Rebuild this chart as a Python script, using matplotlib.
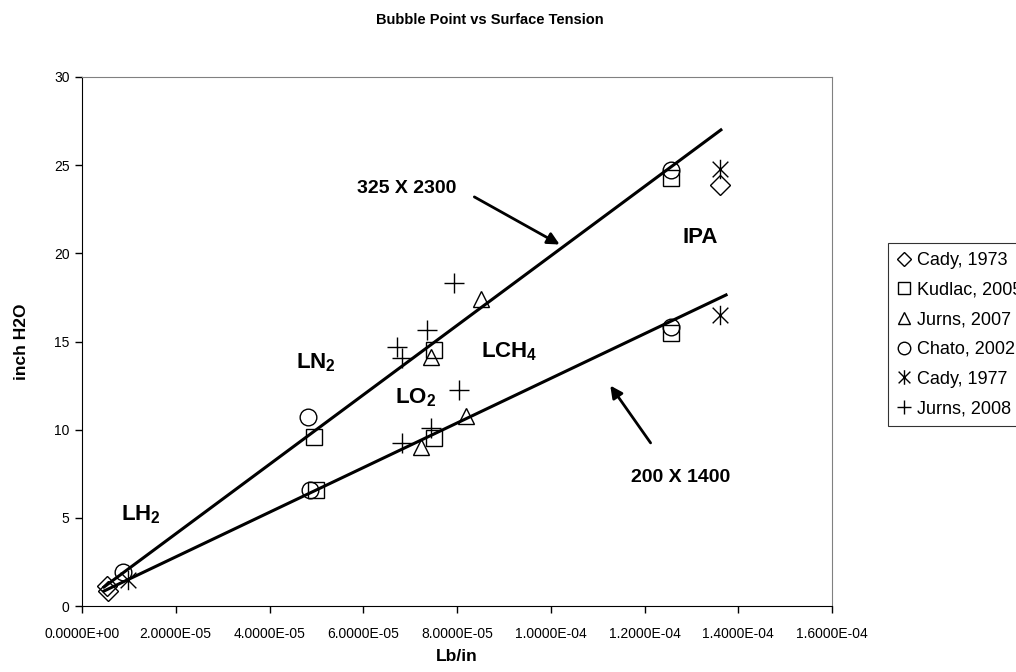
import numpy as np
import matplotlib
matplotlib.use("Agg")
import matplotlib.pyplot as plt
from matplotlib.path import Path
from matplotlib.ticker import FuncFormatter

plt.rcParams['font.family'] = ['Liberation Sans', 'DejaVu Sans']
plt.rcParams['mathtext.fontset'] = 'custom'
plt.rcParams['mathtext.rm'] = 'Liberation Sans'
plt.rcParams['mathtext.bf'] = 'Liberation Sans:bold'

# data (x in lb/in, y in inch H2O)
cady73_x = [5.3e-6, 5.6e-6, 136.1e-6]
cady73_y = [1.15, 0.85, 23.9]

kudlac_x = [49.5e-6, 49.9e-6, 75.0e-6, 75.0e-6, 125.6e-6, 125.6e-6]
kudlac_y = [9.6, 6.6, 14.5, 9.5, 24.3, 15.5]

jurns07_x = [74.4e-6, 85.2e-6, 81.9e-6, 72.3e-6]
jurns07_y = [14.1, 17.4, 10.8, 9.0]

chato_x = [8.8e-6, 48.2e-6, 48.6e-6, 125.6e-6, 125.6e-6]
chato_y = [1.9, 10.7, 6.6, 24.7, 15.8]

cady77_x = [9.9e-6, 136.1e-6, 136.1e-6]
cady77_y = [1.5, 24.8, 16.5]

jurns08_x = [79.4e-6, 73.5e-6, 67.1e-6, 68.2e-6, 80.4e-6, 74.4e-6, 68.2e-6]
jurns08_y = [18.3, 15.65, 14.7, 14.05, 12.25, 10.1, 9.25]

# trend lines (325 X 2300 and 200 X 1400 mesh)
line_325_x = [4.7e-6, 136.3e-6]
line_325_y = [1.08, 27.0]
line_200_x = [4.7e-6, 137.4e-6]
line_200_y = [0.85, 17.64]

# asterisk like Excel's: X with a vertical bar
ast = Path([(-0.5, -0.5), (0.5, 0.5), (-0.5, 0.5), (0.5, -0.5), (0, -0.62), (0, 0.62)],
           [Path.MOVETO, Path.LINETO] * 3)

series = [
    ("Cady, 1973", cady73_x, cady73_y, "D", 10),
    ("Kudlac, 2005", kudlac_x, kudlac_y, "s", 12),
    ("Jurns, 2007", jurns07_x, jurns07_y, "^", 12),
    ("Chato, 2002", chato_x, chato_y, "o", 12),
    ("Cady, 1977", cady77_x, cady77_y, ast, 14),
    ("Jurns, 2008", jurns08_x, jurns08_y, "+", 14),
]


def main():
    fig = plt.figure(figsize=(10.16, 6.72), dpi=100, facecolor='w')
    ax = fig.add_axes([82 / 1016, 66 / 672, 750 / 1016, 529 / 672])

    ax.plot(line_325_x, line_325_y, color='black', lw=2.2, zorder=3)
    ax.plot(line_200_x, line_200_y, color='black', lw=2.2, zorder=3)

    handles = []
    for label, xs, ys, marker, size in series:
        h, = ax.plot(xs, ys, linestyle='none', marker=marker, markersize=size,
                     markerfacecolor='none', markeredgecolor='black',
                     markeredgewidth=1.0, label=label, zorder=2)
        handles.append(h)

    ax.set_xlim(0, 1.6e-4)
    ax.set_ylim(0, 30)
    ax.set_xticks(np.arange(0, 1.61e-4, 2e-5))
    ax.set_yticks(np.arange(0, 31, 5))
    ax.xaxis.set_major_formatter(FuncFormatter(lambda v, p: f"{v:.4E}"))
    ax.tick_params(axis='both', direction='out', length=5, width=1, labelsize=10, pad=4)
    ax.tick_params(axis='x', pad=10)

    for s in ('top', 'right'):
        ax.spines[s].set_color('#808080')
    for s in ('left', 'bottom'):
        ax.spines[s].set_color('black')

    ax.set_xlabel("Lb/in", fontsize=12.5, fontweight='bold', labelpad=6)
    ax.set_ylabel("inch H2O", fontsize=12.5, fontweight='bold', labelpad=18)
    fig.text(490 / 1016, 1 - 20 / 672, "Bubble Point vs Surface Tension",
             ha='center', va='center', fontsize=10.5, fontweight='bold')

    lab = dict(fontsize=16, fontweight='bold', ha='center', va='center')
    ax.text(12.5e-6, 5.2, r"LH$_\mathbf{2}$", **lab)
    ax.text(49.9e-6, 13.8, r"LN$_\mathbf{2}$", **lab)
    ax.text(71.2e-6, 11.8, r"LO$_\mathbf{2}$", **lab)
    ax.text(91.2e-6, 14.4, r"LCH$_\mathbf{4}$", **lab)
    ax.text(132e-6, 20.9, "IPA", **lab)

    arrow = dict(arrowstyle='-|>', color='black', lw=2, mutation_scale=18,
                 shrinkA=0, shrinkB=0)
    ax.annotate("", xy=(101.9e-6, 20.5), xytext=(83.7e-6, 23.2), arrowprops=arrow)
    ax.text(69.2e-6, 23.7, "325 X 2300", fontsize=14, fontweight='bold',
            ha='center', va='center')
    ax.annotate("", xy=(112.7e-6, 12.5), xytext=(121.3e-6, 9.25), arrowprops=arrow)
    ax.text(127.7e-6, 7.26, "200 X 1400", fontsize=14, fontweight='bold',
            ha='center', va='center')

    leg = fig.legend(handles=handles, loc='upper left',
                     bbox_to_anchor=(888 / 1016, 1 - 243 / 672),
                     borderaxespad=0, frameon=True, fancybox=False,
                     edgecolor='black', fontsize=13, handlelength=0.8,
                     handletextpad=0.3, labelspacing=0.7, borderpad=0.5,
                     markerscale=0.75)
    leg.get_frame().set_linewidth(0.8)

    fig.savefig("out.png", dpi=100)


if __name__ == "__main__":
    main()
